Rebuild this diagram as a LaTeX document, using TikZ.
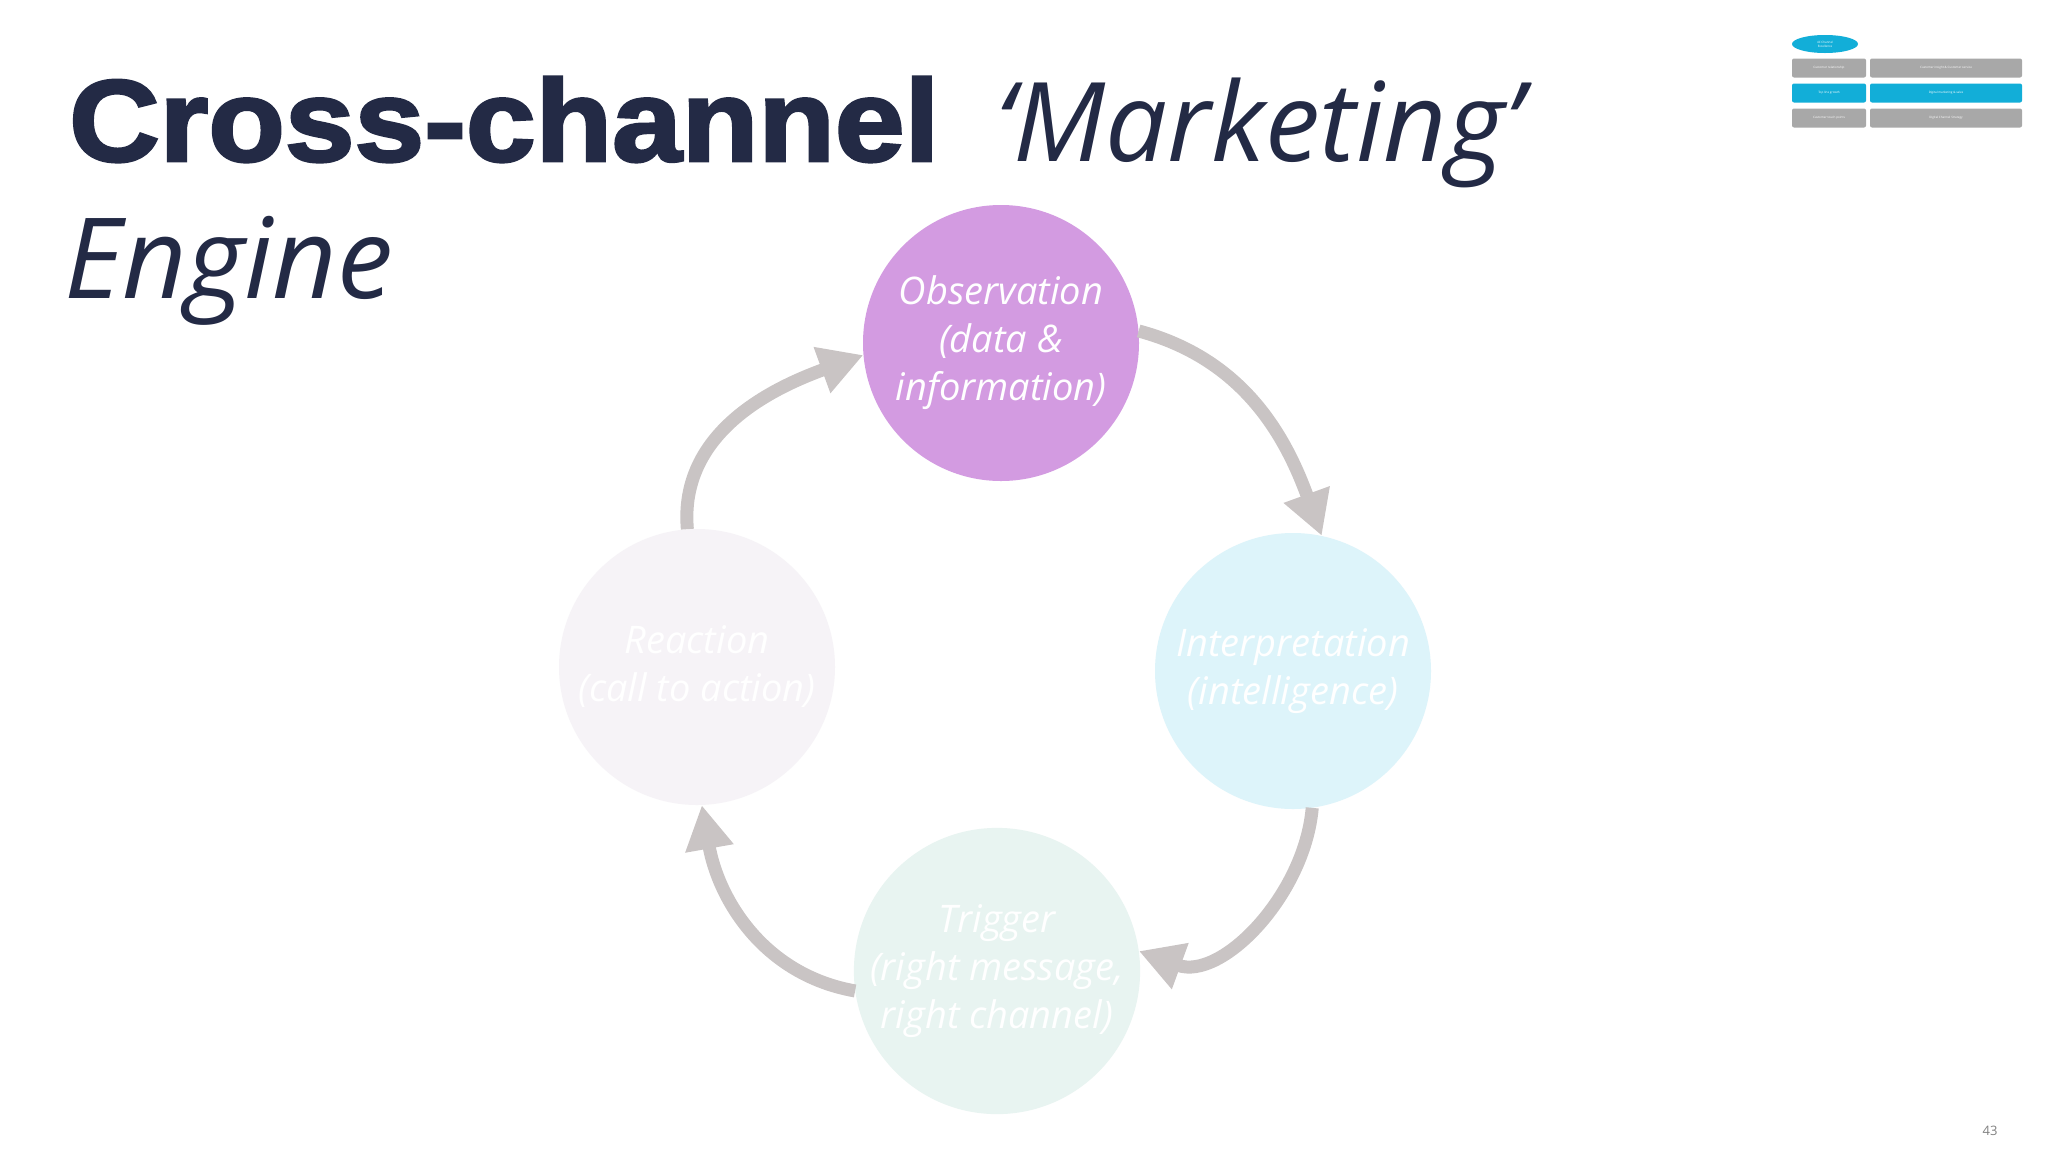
\documentclass[tikz,border=0pt]{standalone}
\usepackage{fontspec}
\setmainfont{Open Sans}
\newfontfamily\heavy[FakeBold=2.5,FakeStretch=1.08]{Liberation Sans}
\usetikzlibrary{arrows.meta,shapes.geometric}
\begin{document}
\begin{tikzpicture}[x=1pt,y=-1pt,
  stage/.style={circle,minimum size=276pt,inner sep=0pt,align=center,text=white,font=\itshape\fontsize{38}{48}\selectfont},
  cyc/.style={draw=arrowgray,line width=13pt,-{Triangle[width=46pt,length=44pt]}},
  thumb/.style={rounded corners=2pt,minimum height=19pt,inner sep=0pt,text=white,font=\fontsize{3}{4}\selectfont}]
\definecolor{arrowgray}{HTML}{C9C4C4}
\definecolor{titleblue}{HTML}{232A45}
\definecolor{obsfill}{HTML}{D39BE1}
\definecolor{intfill}{HTML}{DDF4FA}
\definecolor{trgfill}{HTML}{E8F4F1}
\definecolor{reafill}{HTML}{F6F3F7}
\definecolor{thgray}{HTML}{A8A8A8}
\definecolor{thblue}{HTML}{12AED8}
\useasboundingbox[fill=white] (0,0) rectangle (2048,1152);
\node[anchor=base west,inner sep=0pt,text=titleblue] (t1) at (69,161) {\heavy\bfseries\fontsize{116}{120}\selectfont Cross-channel};
\node[anchor=base west,inner sep=0pt,text=titleblue] (t2) at (995,161) {\itshape\fontsize{110}{120}\selectfont‘Marketing’};
\node[anchor=base west,inner sep=0pt,text=titleblue] (t3) at (64,298) {\itshape\fontsize{112}{120}\selectfont Engine};
\node[stage,fill=obsfill] (obs) at (1001,343) {Observation\\(data \&\\information)};
\node[stage,fill=intfill] (int) at (1293,671) {Interpretation\\(intelligence)};
\node[stage,fill=trgfill] (trg) at (997,971) {Trigger\\(right message,\\right channel)};
\node[stage,fill=reafill] (rea) at (697,667) {Reaction\\(call to action)};
\draw[cyc] (obs.5) to[out=-15,in=110] (int.78);
\draw[cyc] (int.-82) to[out=-95,in=-20] (trg.8);
\draw[cyc] (trg.188) to[out=170,in=-80] (rea.-88);
\draw[cyc] (rea.94) to[out=95,in=-160] (obs.185);
\node[fill=thblue,ellipse,minimum width=66pt,minimum height=18pt,inner sep=0pt,text=white,font=\fontsize{3}{4}\selectfont,align=center] (e) at (1825,44) {4C Channel\\Excellence};
\node[thumb,fill=thgray,minimum width=74pt] (a1) at (1829,68) {Customer relationship};
\node[thumb,fill=thgray,minimum width=152pt] (b1) at (1946,68) {Customer insight \& Customer service};
\node[thumb,fill=thblue,minimum width=74pt] (a2) at (1829,93) {Top line growth};
\node[thumb,fill=thblue,minimum width=152pt] (b2) at (1946,93) {Digital marketing \& sales};
\node[thumb,fill=thgray,minimum width=74pt] (a3) at (1829,118) {Customer touch points};
\node[thumb,fill=thgray,minimum width=152pt] (b3) at (1946,118) {Digital Channel Strategy};
\node[text=gray,font=\fontsize{13}{14}\selectfont] (pg) at (1990,1131) {43};
\end{tikzpicture}
\end{document}
